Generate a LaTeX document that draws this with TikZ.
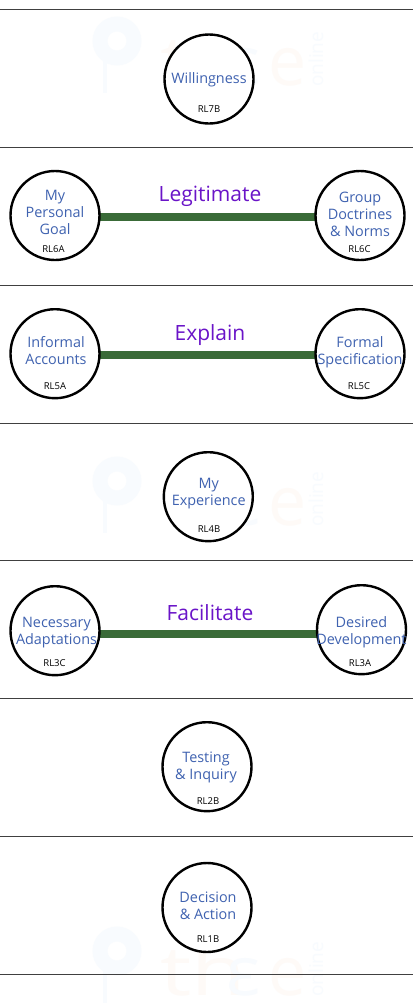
\documentclass[tikz,border=0pt]{standalone}
\usepackage{fontspec}
\setmainfont{Open Sans}
\definecolor{nodeblue}{HTML}{3F62B0}
\definecolor{verbpurple}{HTML}{6A14C8}
\definecolor{linkgreen}{HTML}{3A6B38}
\definecolor{wmblue}{HTML}{F8FBFE}
\definecolor{wmorange}{HTML}{FEFAF7}
\tikzset{
  x=1pt,y=-1pt,
  rule/.style={draw=black!75,line width=1pt},
  circ/.style={circle,draw=black,line width=2.4pt,minimum size=89pt,inner sep=0pt},
  lbl/.style={text=nodeblue,align=center,inner sep=0pt,font=\fontsize{14.4}{17}\selectfont},
  code/.style={font=\fontsize{9.5}{10}\selectfont,text=black,inner sep=0pt},
  link/.style={draw=linkgreen,line width=8pt},
  verb/.style={text=verbpurple,font=\fontsize{21}{22}\selectfont,inner sep=0pt},
  wmb/.style={draw=wmblue},
  wmt/.style={inner sep=0pt,anchor=base west,font=\fontsize{68}{68}\selectfont},
  wmo/.style={inner sep=0pt,anchor=base west,rotate=90,text=wmblue,font=\fontsize{19}{19}\selectfont}
}
\begin{document}
\begin{tikzpicture}
\useasboundingbox (0,0) rectangle (413,1005);
\fill[white] (0,0) rectangle (413,1005);
% watermarks
\foreach \n/\y in {wa/0,wb/440,wc/910}{
  \begin{scope}[yshift=-\y pt]
    \draw[wmb,line width=15pt] (117,41) circle[radius=17];
    \draw[wmb,line width=4pt] (105,60) -- (105,93);
    \node[wmt,xscale=1.3,text=wmorange] (\n t) at (160,85) {th};
    \node[wmt,xscale=1.05,text=wmblue] (\n e) at (226,85) {ε};
    \node[wmt,xscale=1.0,text=wmorange] (\n f) at (268,85) {e};
    \node[wmo] (\n o) at (323,87) {online};
  \end{scope}
}
% rules
\foreach \y in {9.5,147,285,423,560.5,698.5,836,974.5}{
  \draw[rule] (0,\y) -- (413,\y);
}
% links
\coordinate (a6) at (55,216.7);
\coordinate (b6) at (360,216.7);
\coordinate (a5) at (55,355);
\coordinate (b5) at (360,355);
\coordinate (a3) at (55,634.2);
\coordinate (b3) at (361,634.2);
\draw[link] (a6) -- (b6);
\draw[link] (a5) -- (b5);
\draw[link] (a3) -- (b3);
% circles
\fill[white] (209,79) circle[radius=44.5] (55,215.5) circle[radius=44.5] (360,215.5) circle[radius=44.5]
  (55,353.7) circle[radius=44.5] (360,353.7) circle[radius=44.5] (208.3,496.7) circle[radius=44.5]
  (55,630.7) circle[radius=44.5] (361.5,629.7) circle[radius=44.5] (207,766.7) circle[radius=44.5] (207,907.5) circle[radius=44.5];
\node[circ] (n7b) at (209,79) {};
\node[circ] (n6a) at (55,215.5) {};
\node[circ] (n6c) at (360,215.5) {};
\node[circ] (n5a) at (55,353.7) {};
\node[circ] (n5c) at (360,353.7) {};
\node[circ] (n4b) at (208.3,496.7) {};
\node[circ] (n3c) at (55,630.7) {};
\node[circ] (n3a) at (361.5,629.7) {};
\node[circ] (n2b) at (207,766.7) {};
\node[circ] (n1b) at (207,907.5) {};
% labels
\node[lbl] (l7b) at (209,79.5) {Willingness};
\node[lbl] (l6a) at (55,212.5) {My\\Personal\\Goal};
\node[lbl] (l6c) at (360,214) {Group\\Doctrines\\\& Norms};
\node[lbl] (l5a) at (56,351) {Informal\\Accounts};
\node[lbl] (l5c) at (360,352) {Formal\\Specification};
\node[lbl] (l4b) at (208.7,494) {My\\Experience};
\node[lbl] (l3c) at (56.5,632.5) {Necessary\\Adaptations};
\node[lbl] (l3a) at (361.5,632.5) {Desired\\Development};
\node[lbl] (l2b) at (206,767.5) {Testing\\\& Inquiry};
\node[lbl] (l1b) at (208,905.5) {Decision\\\& Action};
% codes
\node[code] (c7b) at (209,109) {RL7B};
\node[code] (c6a) at (53.5,249) {RL6A};
\node[code] (c6c) at (359.5,249) {RL6C};
\node[code] (c5a) at (55,386) {RL5A};
\node[code] (c5c) at (359,386) {RL5C};
\node[code] (c4b) at (209,529) {RL4B};
\node[code] (c3c) at (54.5,663) {RL3C};
\node[code] (c3a) at (360,663) {RL3A};
\node[code] (c2b) at (208,801) {RL2B};
\node[code] (c1b) at (208,939) {RL1B};
% verbs
\node[verb] (v6) at (210,196) {Legitimate};
\node[verb] (v5) at (210,335.5) {Explain};
\node[verb] (v3) at (210,613) {Facilitate};
\end{tikzpicture}
\end{document}
